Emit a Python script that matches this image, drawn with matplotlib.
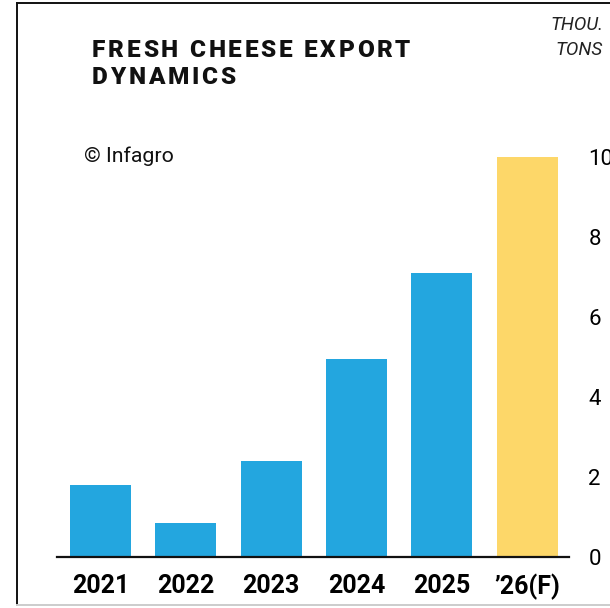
import matplotlib
matplotlib.use("Agg")
import matplotlib.pyplot as plt
from matplotlib.transforms import IdentityTransform
from matplotlib.lines import Line2D

# export volumes, thousand tons
years = ["2021", "2022", "2023", "2024", "2025", "\u201926(F)"]
volumes = [1.8, 0.85, 2.4, 4.95, 7.1, 10.0]
is_forecast = [False, False, False, False, False, True]
yticks = [0, 2, 4, 6, 8, 10]

blue = "#23a6df"
yellow = "#fdd769"

plt.rcParams["font.family"] = ["Roboto", "DejaVu Sans"]

W, H = 610, 608
fig = plt.figure(figsize=(W / 100, H / 100), dpi=100)

# axes placed in pixel units
left, right, bottom, top = 57, 569, 557, 157
ax = fig.add_axes([left / W, 1 - bottom / H, (right - left) / W, (bottom - top) / H])
ax.set_facecolor("none")

colors = [yellow if f else blue for f in is_forecast]
ax.bar(range(len(years)), volumes, width=0.715, color=colors, zorder=2)

ax.set_xlim(-0.51, 5.49)
ax.set_ylim(0, 10)
for s in ["top", "left", "right"]:
    ax.spines[s].set_visible(False)
ax.spines["bottom"].set_linewidth(1.6)
ax.spines["bottom"].set_color("#111111")
ax.spines["bottom"].set_zorder(3)

ax.set_xticks(range(len(years)))
ax.set_xticklabels(years, fontsize=18, fontweight="bold")
ax.tick_params(axis="x", length=0, pad=12)

ax.yaxis.tick_right()
ax.set_yticks(yticks)
ax.set_yticklabels([str(v) for v in yticks], fontsize=16)
ax.tick_params(axis="y", length=0, pad=14)
ax.set_clip_on(False)


def px(x, y):
    # pixel position measured from the top-left corner
    return x, H - y


def spaced_text(x, y, s, gap, **kw):
    renderer = fig.canvas.get_renderer()
    cx = x
    for ch in s:
        if ch == " ":
            cx += kw.get("fontsize", 12) * 0.35 + gap
            continue
        t = fig.text(*px(cx, y), ch, transform=IdentityTransform(), va="baseline", **kw)
        cx += t.get_window_extent(renderer).width + gap


spaced_text(92, 57, "FRESH CHEESE EXPORT", 2.7, fontsize=17.5, fontweight="heavy", color="#111111")
spaced_text(92, 84, "DYNAMICS", 2.7, fontsize=17.5, fontweight="heavy", color="#111111")

fig.text(*px(84, 162), "\u00a9 Infagro", transform=IdentityTransform(),
         fontsize=15.3, va="baseline", color="#111111")

fig.text(*px(603, 30), "THOU.", transform=IdentityTransform(), fontsize=13.5,
         style="italic", ha="right", va="baseline", color="#222222")
fig.text(*px(603, 55), "TONS", transform=IdentityTransform(), fontsize=13.5,
         style="italic", ha="right", va="baseline", color="#222222")

# outer frame
fig.add_artist(Line2D([17, 17], [H - 3, H - 605], transform=IdentityTransform(),
                      color="#111111", lw=1.4))
fig.add_artist(Line2D([17, W], [H - 3, H - 3], transform=IdentityTransform(),
                      color="#111111", lw=1.4))
fig.add_artist(Line2D([17, W], [H - 605, H - 605], transform=IdentityTransform(),
                      color="#cccccc", lw=1.4))

fig.savefig("out.png", dpi=100)
